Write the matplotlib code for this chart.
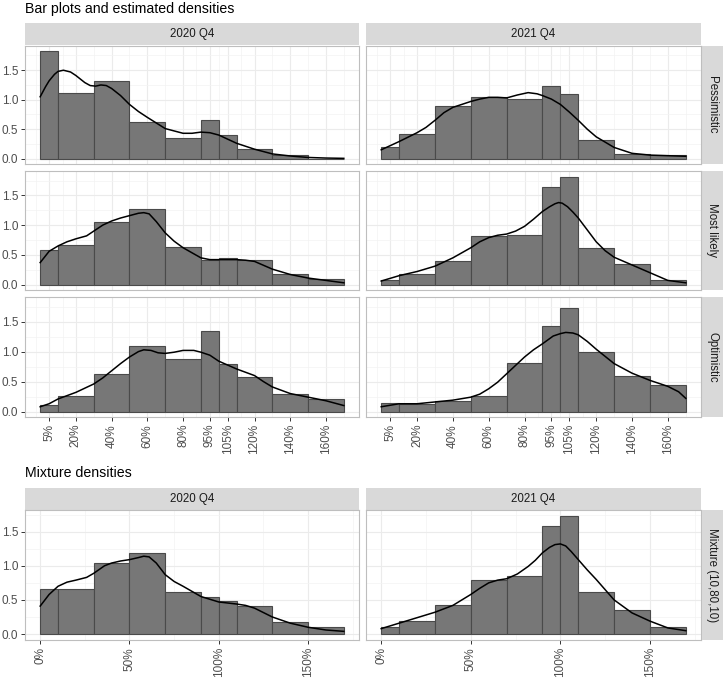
import matplotlib.pyplot as plt
import numpy as np

plt.rcParams['font.family'] = ['Liberation Sans', 'DejaVu Sans']

# bins of the estimate (in % of outcome)
bin_edges = [0, 10, 30, 50, 70, 90, 100, 110, 130, 150, 170]
top_ticks = [5, 20, 40, 60, 80, 95, 105, 120, 140, 160]
bottom_ticks = [0, 50, 100, 150]
quarters = ['2020 Q4', '2021 Q4']
scenarios = ['Pessimistic', 'Most likely', 'Optimistic']
mixture_label = 'Mixture (10,80,10)'

# bar heights (density), one value per bin
pes_2020 = [1.82, 1.11, 1.31, 0.63, 0.35, 0.65, 0.40, 0.17, 0.07, 0.0]
mlk_2020 = [0.59, 0.66, 1.06, 1.28, 0.63, 0.42, 0.45, 0.42, 0.17, 0.09]
opt_2020 = [0.11, 0.26, 0.62, 1.10, 0.88, 1.35, 0.79, 0.57, 0.29, 0.21]
pes_2021 = [0.19, 0.41, 0.89, 1.05, 1.02, 1.23, 1.09, 0.31, 0.08, 0.06]
mlk_2021 = [0.07, 0.18, 0.39, 0.82, 0.84, 1.65, 1.81, 0.62, 0.35, 0.07]
opt_2021 = [0.15, 0.12, 0.17, 0.26, 0.81, 1.42, 1.72, 0.99, 0.60, 0.45]
mix_2020 = [0.66, 0.66, 1.04, 1.19, 0.62, 0.54, 0.48, 0.41, 0.18, 0.10]
mix_2021 = [0.10, 0.19, 0.42, 0.79, 0.85, 1.58, 1.73, 0.62, 0.35, 0.11]

# estimated density curves (x in %, y density)
pes_2020_cx = [0, 3, 5, 8, 10, 13, 17, 20, 25, 28, 31, 34, 37, 40, 45, 50, 55, 60, 70, 80, 85, 90, 95, 100, 105, 110, 120, 130, 140, 150, 160, 170]
pes_2020_cy = [1.05, 1.22, 1.32, 1.43, 1.48, 1.50, 1.47, 1.41, 1.29, 1.24, 1.23, 1.25, 1.24, 1.19, 1.07, 0.92, 0.80, 0.70, 0.51, 0.43, 0.43, 0.45, 0.44, 0.40, 0.33, 0.26, 0.16, 0.08, 0.045, 0.02, 0.01, 0.005]
mlk_2020_cx = [0, 5, 10, 15, 20, 26, 30, 35, 40, 45, 50, 55, 58, 61, 65, 70, 75, 80, 90, 95, 100, 110, 115, 120, 130, 140, 150, 160, 170]
mlk_2020_cy = [0.37, 0.56, 0.65, 0.72, 0.77, 0.82, 0.90, 1.00, 1.07, 1.12, 1.16, 1.20, 1.21, 1.19, 1.06, 0.87, 0.73, 0.62, 0.45, 0.42, 0.42, 0.42, 0.41, 0.39, 0.26, 0.17, 0.11, 0.07, 0.03]
opt_2020_cx = [0, 5, 10, 20, 30, 35, 40, 45, 50, 55, 58, 62, 66, 70, 75, 80, 86, 90, 95, 100, 110, 120, 125, 130, 140, 150, 160, 170]
opt_2020_cy = [0.08, 0.13, 0.21, 0.32, 0.46, 0.56, 0.68, 0.80, 0.91, 1.00, 1.03, 1.02, 0.98, 0.97, 0.99, 1.02, 1.02, 0.99, 0.94, 0.84, 0.71, 0.60, 0.50, 0.41, 0.30, 0.24, 0.18, 0.10]
pes_2021_cx = [0, 10, 20, 25, 30, 35, 40, 45, 50, 55, 60, 65, 70, 76, 82, 87, 90, 95, 100, 105, 110, 115, 120, 130, 140, 150, 160, 170]
pes_2021_cy = [0.15, 0.29, 0.44, 0.53, 0.65, 0.78, 0.87, 0.92, 0.97, 1.01, 1.04, 1.04, 1.03, 1.08, 1.12, 1.10, 1.07, 1.01, 0.92, 0.79, 0.65, 0.50, 0.37, 0.19, 0.09, 0.06, 0.05, 0.04]
mlk_2021_cx = [0, 10, 20, 30, 40, 50, 55, 60, 65, 70, 75, 80, 85, 90, 94, 97, 99, 101, 104, 107, 110, 115, 120, 125, 130, 140, 150, 160, 170]
mlk_2021_cy = [0.06, 0.15, 0.22, 0.31, 0.45, 0.62, 0.72, 0.79, 0.83, 0.85, 0.90, 0.98, 1.10, 1.23, 1.31, 1.36, 1.38, 1.37, 1.31, 1.22, 1.12, 0.92, 0.72, 0.57, 0.46, 0.33, 0.20, 0.07, 0.03]
opt_2021_cx = [0, 10, 20, 30, 40, 50, 55, 60, 65, 70, 75, 80, 85, 90, 96, 100, 103, 107, 110, 115, 120, 130, 140, 150, 160, 166, 170]
opt_2021_cy = [0.08, 0.13, 0.13, 0.16, 0.19, 0.24, 0.29, 0.38, 0.49, 0.63, 0.77, 0.91, 1.03, 1.13, 1.26, 1.30, 1.32, 1.31, 1.28, 1.17, 1.04, 0.80, 0.64, 0.52, 0.42, 0.33, 0.22]
mix_2020_cx = [0, 5, 10, 15, 20, 26, 30, 36, 40, 45, 50, 55, 58, 61, 65, 70, 75, 80, 90, 100, 110, 115, 120, 130, 140, 150, 160, 170]
mix_2020_cy = [0.41, 0.58, 0.70, 0.76, 0.79, 0.83, 0.89, 1.00, 1.04, 1.07, 1.09, 1.12, 1.14, 1.13, 1.04, 0.87, 0.77, 0.70, 0.55, 0.47, 0.44, 0.42, 0.38, 0.25, 0.16, 0.10, 0.06, 0.04]
mix_2021_cx = [0, 10, 20, 30, 40, 50, 55, 60, 65, 70, 76, 82, 86, 90, 94, 97, 100, 103, 106, 110, 115, 120, 130, 140, 150, 160, 170]
mix_2021_cy = [0.08, 0.16, 0.24, 0.32, 0.42, 0.58, 0.67, 0.75, 0.79, 0.81, 0.88, 0.99, 1.08, 1.19, 1.27, 1.31, 1.32, 1.29, 1.21, 1.09, 0.94, 0.80, 0.50, 0.31, 0.19, 0.09, 0.05]

W, H = 726, 678
fig = plt.figure(figsize=(W / 100, H / 100), dpi=100)

def px_axes(x0, y0, x1, y1):
    return fig.add_axes([x0 / W, 1 - y1 / H, (x1 - x0) / W, (y1 - y0) / H])

def strip(x0, y0, x1, y1, label, rot=0):
    a = px_axes(x0, y0, x1, y1)
    a.set_facecolor('#D9D9D9')
    a.set_xticks([])
    a.set_yticks([])
    for s in a.spines.values():
        s.set_visible(False)
    a.text(0.5, 0.5, label, transform=a.transAxes, ha='center', va='center',
           rotation=rot, fontsize=8.3, color='#1A1A1A')

def minor_breaks(b, lo, hi):
    b = [b[0] - (b[1] - b[0])] + list(b) + [b[-1] + (b[-1] - b[-2])]
    m = [(b[i] + b[i + 1]) / 2 for i in range(len(b) - 1)]
    return [v for v in m if lo <= v <= hi]

xlim = (-8.5, 178.5)

def panel(ax, heights, cx, cy, ylim, xticks, xlabels, show_y, show_x):
    ax.set_facecolor('white')
    widths = np.diff(bin_edges)
    ax.bar(bin_edges[:-1], heights, width=widths, align='edge',
           color='#777777', edgecolor='#4A4A4A', linewidth=0.8, zorder=2)
    ax.plot(cx, cy, color='black', linewidth=1.1, zorder=3)
    ax.set_xlim(*xlim)
    ax.set_ylim(*ylim)
    yt = [0.0, 0.5, 1.0, 1.5]
    ax.set_yticks(yt)
    ax.set_xticks(xticks)
    ax.set_xticks(minor_breaks(xticks, *xlim), minor=True)
    ax.set_yticks(minor_breaks(yt, *ylim), minor=True)
    ax.grid(True, which='major', color='#EBEBEB', linewidth=0.8, zorder=0)
    ax.grid(True, which='minor', color='#F3F3F3', linewidth=0.5, zorder=0)
    ax.set_axisbelow(True)
    ax.tick_params(which='minor', length=0)
    ax.tick_params(which='major', length=3, width=0.7, color='#333333',
                   labelsize=8.5, labelcolor='#4D4D4D', pad=2)
    if show_y:
        ax.set_yticklabels(['0.0', '0.5', '1.0', '1.5'])
    else:
        ax.tick_params(axis='y', length=0, labelleft=False)
    if show_x:
        ax.set_xticklabels(xlabels, rotation=90, va='top', ha='center')
    else:
        ax.tick_params(axis='x', length=0, labelbottom=False)
    for s in ax.spines.values():
        s.set_color('#BEBEBE')
        s.set_linewidth(0.8)

cols = [(25, 359), (366, 701)]
rows = [(46, 164), (171, 290), (297, 417)]

bars_top = [[pes_2020, pes_2021], [mlk_2020, mlk_2021], [opt_2020, opt_2021]]
curves_top = [[(pes_2020_cx, pes_2020_cy), (pes_2021_cx, pes_2021_cy)],
              [(mlk_2020_cx, mlk_2020_cy), (mlk_2021_cx, mlk_2021_cy)],
              [(opt_2020_cx, opt_2020_cy), (opt_2021_cx, opt_2021_cy)]]

ymax_top = max(max(max(b) for b in r) for r in bars_top)
ylim_top = (-0.05 * ymax_top, 1.05 * ymax_top)
ymax_bot = max(max(mix_2020), max(mix_2021))
ylim_bot = (-0.05 * ymax_bot, 1.05 * ymax_bot)

top_labels = [f'{t}%' for t in top_ticks]
bot_labels = [f'{t}%' for t in bottom_ticks]

fig.text(25 / W, 1 - 9 / H, 'Bar plots and estimated densities', fontsize=10.2,
         va='center', ha='left', color='black')
for j, (x0, x1) in enumerate(cols):
    strip(x0, 23, x1, 45, quarters[j])
for i, (y0, y1) in enumerate(rows):
    strip(702, y0, 723, y1, scenarios[i], rot=270)
    for j, (x0, x1) in enumerate(cols):
        ax = px_axes(x0, y0, x1, y1)
        cx, cy = curves_top[i][j]
        panel(ax, bars_top[i][j], cx, cy, ylim_top, top_ticks, top_labels,
              show_y=(j == 0), show_x=(i == 2))

# mixture section
fig.text(25 / W, 1 - 473 / H, 'Mixture densities', fontsize=10.2,
         va='center', ha='left', color='black')
mix_bars = [mix_2020, mix_2021]
mix_curves = [(mix_2020_cx, mix_2020_cy), (mix_2021_cx, mix_2021_cy)]
for j, (x0, x1) in enumerate(cols):
    strip(x0, 488, x1, 510, quarters[j])
    ax = px_axes(x0, 510, x1, 640)
    panel(ax, mix_bars[j], mix_curves[j][0], mix_curves[j][1], ylim_bot,
          bottom_ticks, bot_labels, show_y=(j == 0), show_x=True)
strip(702, 510, 723, 640, mixture_label, rot=270)

fig.savefig('out.png', dpi=100)
